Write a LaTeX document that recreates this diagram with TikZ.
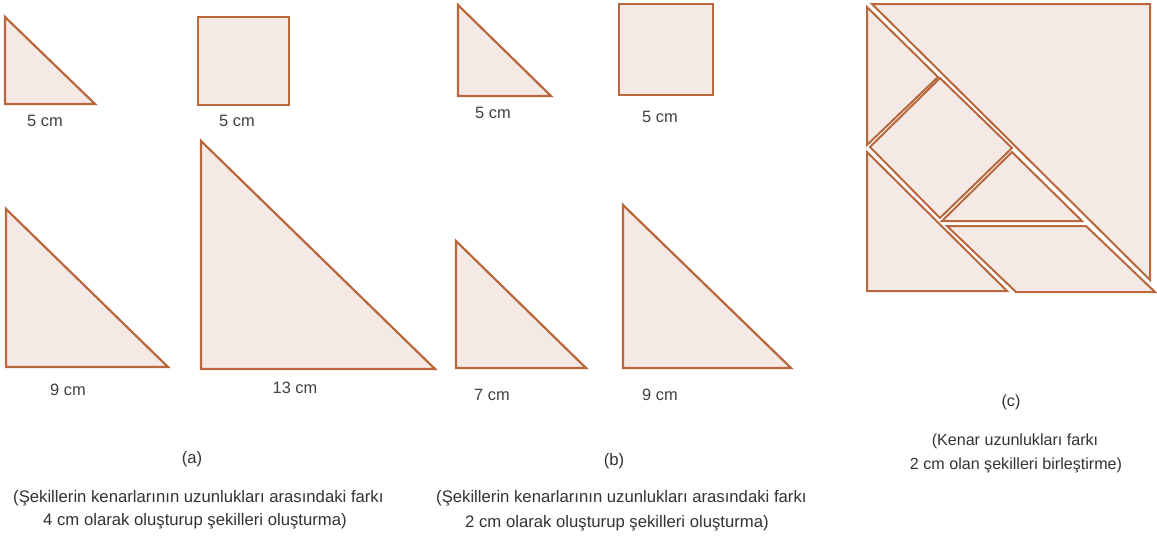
\documentclass[tikz,border=0pt]{standalone}
\usepackage{fontspec}
\setmainfont{Liberation Sans}
\definecolor{edge}{HTML}{B9673C}
\definecolor{piece}{HTML}{F4E9E5}
\begin{document}
\begin{tikzpicture}[x=1pt,y=-1pt,
  fig/.style={draw=edge,fill=piece,line width=2.2pt,line join=miter},
  cpiece/.style={draw=edge,fill=piece,line width=2pt,line join=miter},
  lbl/.style={font=\fontsize{16.4}{19}\selectfont,text=black!75,inner sep=0pt},
  captxt/.style={font=\fontsize{16.7}{19}\selectfont,text=black!80,inner sep=0pt},
  ctxt/.style={font=\fontsize{16.1}{19}\selectfont,text=black!80,inner sep=0pt}]
\useasboundingbox[fill=white] (0,0) rectangle (1157,541);

% ---------- (a) ----------
\draw[fig] (5,17) -- (5,104) -- (95,104) -- cycle;
\draw[fig] (198,17) rectangle (289,105);
\draw[fig] (6,209) -- (6,367) -- (168,367) -- cycle;
\draw[fig] (201,141) -- (201,369) -- (435,369) -- cycle;
\node[lbl] (a1) at (45,121) {5 cm};
\node[lbl] (a2) at (237,121) {5 cm};
\node[lbl] (a3) at (68,390) {9 cm};
\node[lbl] (a4) at (295,388) {13 cm};
\node[captxt] (acap) at (192,459) {(a)};
\node[captxt,anchor=west] (at1) at (13,498) {(Şekillerin kenarlarının uzunlukları arasındaki farkı};
\node[captxt,anchor=west] (at2) at (43,521) {4 cm olarak oluşturup şekilleri oluşturma)};

% ---------- (b) ----------
\draw[fig] (458,5) -- (458,96) -- (551,96) -- cycle;
\draw[fig] (619,4) rectangle (713,95);
\draw[fig] (456,241) -- (456,368) -- (586,368) -- cycle;
\draw[fig] (623,205) -- (623,368) -- (791,368) -- cycle;
\node[lbl] (b1) at (493,113) {5 cm};
\node[lbl] (b2) at (660,117) {5 cm};
\node[lbl] (b3) at (492,395) {7 cm};
\node[lbl] (b4) at (660,395) {9 cm};
\node[captxt] (bcap) at (614,461) {(b)};
\node[captxt,anchor=west] (bt1) at (436,498) {(Şekillerin kenarlarının uzunlukları arasındaki farkı};
\node[captxt,anchor=west] (bt2) at (465,523) {2 cm olarak oluşturup şekilleri oluşturma)};

% ---------- (c) ----------
\draw[cpiece] (872,4) -- (1150,4) -- (1150,280) -- cycle;
\draw[cpiece] (867,7) -- (867,145) -- (938,77) -- cycle;
\draw[cpiece] (940,78) -- (870,147) -- (940,218) -- (1012,148) -- cycle;
\draw[cpiece] (1012,152) -- (942,221) -- (1082,221) -- cycle;
\draw[cpiece] (867,152) -- (867,291) -- (1007,291) -- cycle;
\draw[cpiece] (947,226) -- (1086,226) -- (1155,292) -- (1016,292) -- cycle;
\node[ctxt] (ccap) at (1011,402) {(c)};
\node[ctxt] (ct1) at (1015,441) {(Kenar uzunlukları farkı};
\node[ctxt] (ct2) at (1016,465) {2 cm olan şekilleri birleştirme)};
\end{tikzpicture}
\end{document}
